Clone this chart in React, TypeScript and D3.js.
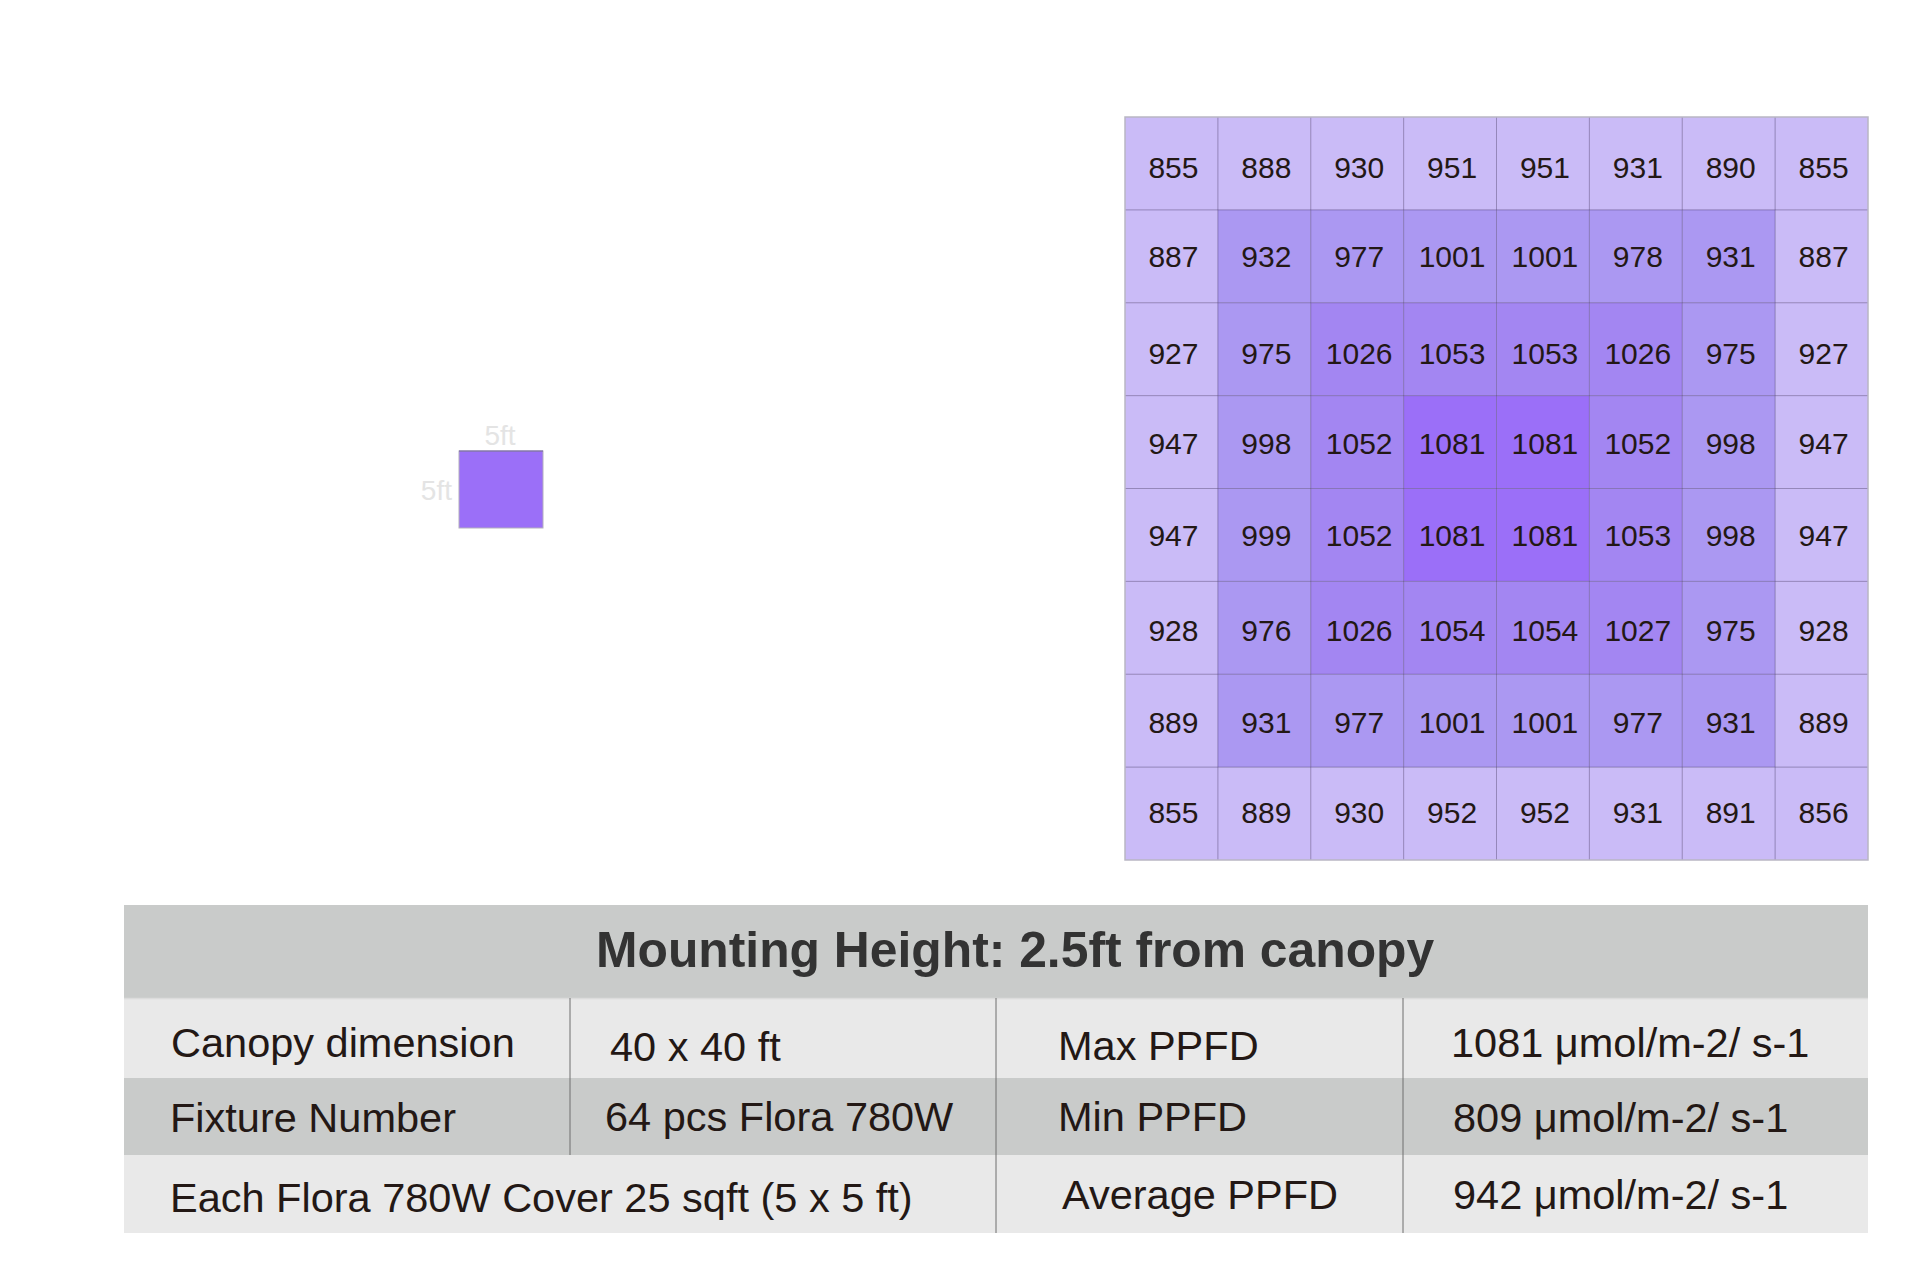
import React from 'react';
import * as d3 from 'd3';

// PPFD grid readings (µmol), 8 x 8, top row first
const ppfdRows: number[][] = [
  [855, 888, 930, 951, 951, 931, 890, 855],
  [887, 932, 977, 1001, 1001, 978, 931, 887],
  [927, 975, 1026, 1053, 1053, 1026, 975, 927],
  [947, 998, 1052, 1081, 1081, 1052, 998, 947],
  [947, 999, 1052, 1081, 1081, 1053, 998, 947],
  [928, 976, 1026, 1054, 1054, 1027, 975, 928],
  [889, 931, 977, 1001, 1001, 977, 931, 889],
  [855, 889, 930, 952, 952, 931, 891, 856],
];

// colour by ring (0 = outer edge, 3 = centre)
const ringColors = ['#cabbf7', '#ab98f2', '#a386f2', '#9b6ff8'];

const fixtureLabel = '5ft';
const tableTitle = 'Mounting Height: 2.5ft from canopy';
const leftLabels = ['Canopy dimension', 'Fixture Number'];
const leftValues = ['40 x 40 ft', '64 pcs Flora 780W'];
const coverNote = 'Each Flora 780W Cover 25 sqft (5 x 5 ft)';
const ppfdLabels = ['Max PPFD', 'Min PPFD', 'Average PPFD'];
const ppfdValues = ['1081 μmol/m-2/ s-1', '809 μmol/m-2/ s-1', '942 μmol/m-2/ s-1'];

const W = 1919;
const H = 1276;
const FONT = '"Liberation Sans", Arial, Helvetica, sans-serif';
const TEXT = '#231815';

const grid = { x0: 1125, x1: 1868, y0: 117, y1: 860 };
// small per-row baseline nudges, the source artwork isn't perfectly aligned
const rowNudge = [2.5, -1, 2.5, 0, -1, 1, 0, -2.5];
const table = {
  x0: 124,
  x1: 1868,
  rows: [905, 998, 1078, 1155, 1233],
  cols: [570, 996, 1403],
};

const App: React.FC = () => {
  const idx = d3.range(8);
  const x = d3.scaleBand<number>().domain(idx).range([grid.x0, grid.x1]);
  const y = d3.scaleBand<number>().domain(idx).range([grid.y0, grid.y1]);
  const ringOf = (r: number, c: number) => Math.min(r, c, 7 - r, 7 - c);
  const color = d3.scaleOrdinal<number, string>().domain([0, 1, 2, 3]).range(ringColors);

  const cells = ppfdRows.flatMap((row, r) => row.map((v, c) => ({ r, c, v })));

  const rowY = table.rows;
  const bodyFills = ['#e9e9e9', '#c9cbca', '#e9e9e9'];

  return (
    <div style={{ position: 'absolute', left: 0, top: 0 }}>
      <svg width={W} height={H} style={{ display: 'block', background: '#ffffff' }}>
        {/* single fixture footprint */}
        <rect x={459} y={451} width={84} height={77} fill="#9b6ff8" stroke="#b3b0bd" strokeWidth={1} />
        <line x1={459} x2={543} y1={451} y2={451} stroke="#6d5a9c" strokeWidth={1.2} />
        <text x={500} y={445} textAnchor="middle" fontFamily={FONT} fontSize={28} fill="#e4e4e4">
          {fixtureLabel}
        </text>
        <text x={452} y={500} textAnchor="end" fontFamily={FONT} fontSize={28} fill="#e4e4e4">
          {fixtureLabel}
        </text>

        {/* PPFD grid */}
        <g>
          {cells.map((d) => (
            <rect
              key={`c-${d.r}-${d.c}`}
              x={x(d.c)}
              y={y(d.r)}
              width={x.bandwidth()}
              height={y.bandwidth()}
              fill={color(ringOf(d.r, d.c))}
            />
          ))}
          {idx.slice(1).map((i) => (
            <line
              key={`v-${i}`}
              x1={x(i)}
              x2={x(i)}
              y1={grid.y0}
              y2={grid.y1}
              stroke="#5f4f86"
              strokeOpacity={0.55}
              strokeWidth={1}
            />
          ))}
          {idx.slice(1).map((i) => (
            <line
              key={`h-${i}`}
              x1={grid.x0}
              x2={grid.x1}
              y1={y(i)}
              y2={y(i)}
              stroke="#5f4f86"
              strokeOpacity={0.55}
              strokeWidth={1}
            />
          ))}
          <rect
            x={grid.x0}
            y={grid.y0}
            width={grid.x1 - grid.x0}
            height={grid.y1 - grid.y0}
            fill="none"
            stroke="#b9b6c4"
            strokeWidth={1.5}
          />
          {cells.map((d) => (
            <text
              key={`t-${d.r}-${d.c}`}
              x={(x(d.c) as number) + x.bandwidth() / 2 + 2}
              y={(y(d.r) as number) + y.bandwidth() / 2 + 12 + rowNudge[d.r]}
              textAnchor="middle"
              fontFamily={FONT}
              fontSize={30}
              fill={TEXT}
            >
              {d.v}
            </text>
          ))}
        </g>

        {/* summary table */}
        <g>
          <rect x={table.x0} y={rowY[0]} width={table.x1 - table.x0} height={rowY[1] - rowY[0]} fill="#c9cbca" />
          {bodyFills.map((f, i) => (
            <rect
              key={`row-${i}`}
              x={table.x0}
              y={rowY[i + 1]}
              width={table.x1 - table.x0}
              height={rowY[i + 2] - rowY[i + 1]}
              fill={f}
            />
          ))}
          <line x1={table.x0} x2={table.x1} y1={rowY[1] + 0.5} y2={rowY[1] + 0.5} stroke="#dcdcdc" strokeWidth={1.5} />
          <line x1={table.cols[0]} x2={table.cols[0]} y1={rowY[1]} y2={rowY[3]} stroke="#6f6f6f" strokeWidth={1} />
          <line x1={table.cols[1]} x2={table.cols[1]} y1={rowY[1]} y2={rowY[4]} stroke="#6f6f6f" strokeWidth={1} />
          <line x1={table.cols[2]} x2={table.cols[2]} y1={rowY[1]} y2={rowY[4]} stroke="#6f6f6f" strokeWidth={1} />

          <text x={596} y={967} fontFamily={FONT} fontSize={49.8} fontWeight="bold" fill="#333333">
            {tableTitle}
          </text>

          {leftLabels.map((t, i) => (
            <text key={`ll-${i}`} x={[171, 170][i]} y={[1057, 1132][i]} fontFamily={FONT} fontSize={41.5} fill={TEXT}>
              {t}
            </text>
          ))}
          {leftValues.map((t, i) => (
            <text key={`lv-${i}`} x={[610, 605][i]} y={[1061, 1131][i]} fontFamily={FONT} fontSize={41.5} fill={TEXT}>
              {t}
            </text>
          ))}
          <text x={170} y={1212} fontFamily={FONT} fontSize={41.5} fill={TEXT}>
            {coverNote}
          </text>
          {ppfdLabels.map((t, i) => (
            <text
              key={`pl-${i}`}
              x={[1058, 1058, 1062][i]}
              y={[1060, 1131, 1209][i]}
              fontFamily={FONT}
              fontSize={41.5}
              fill={TEXT}
            >
              {t}
            </text>
          ))}
          {ppfdValues.map((t, i) => (
            <text
              key={`pv-${i}`}
              x={[1451, 1453, 1453][i]}
              y={[1057, 1132, 1209][i]}
              fontFamily={FONT}
              fontSize={41.5}
              fill={TEXT}
            >
              {t}
            </text>
          ))}
        </g>
      </svg>
    </div>
  );
};

export default App;
